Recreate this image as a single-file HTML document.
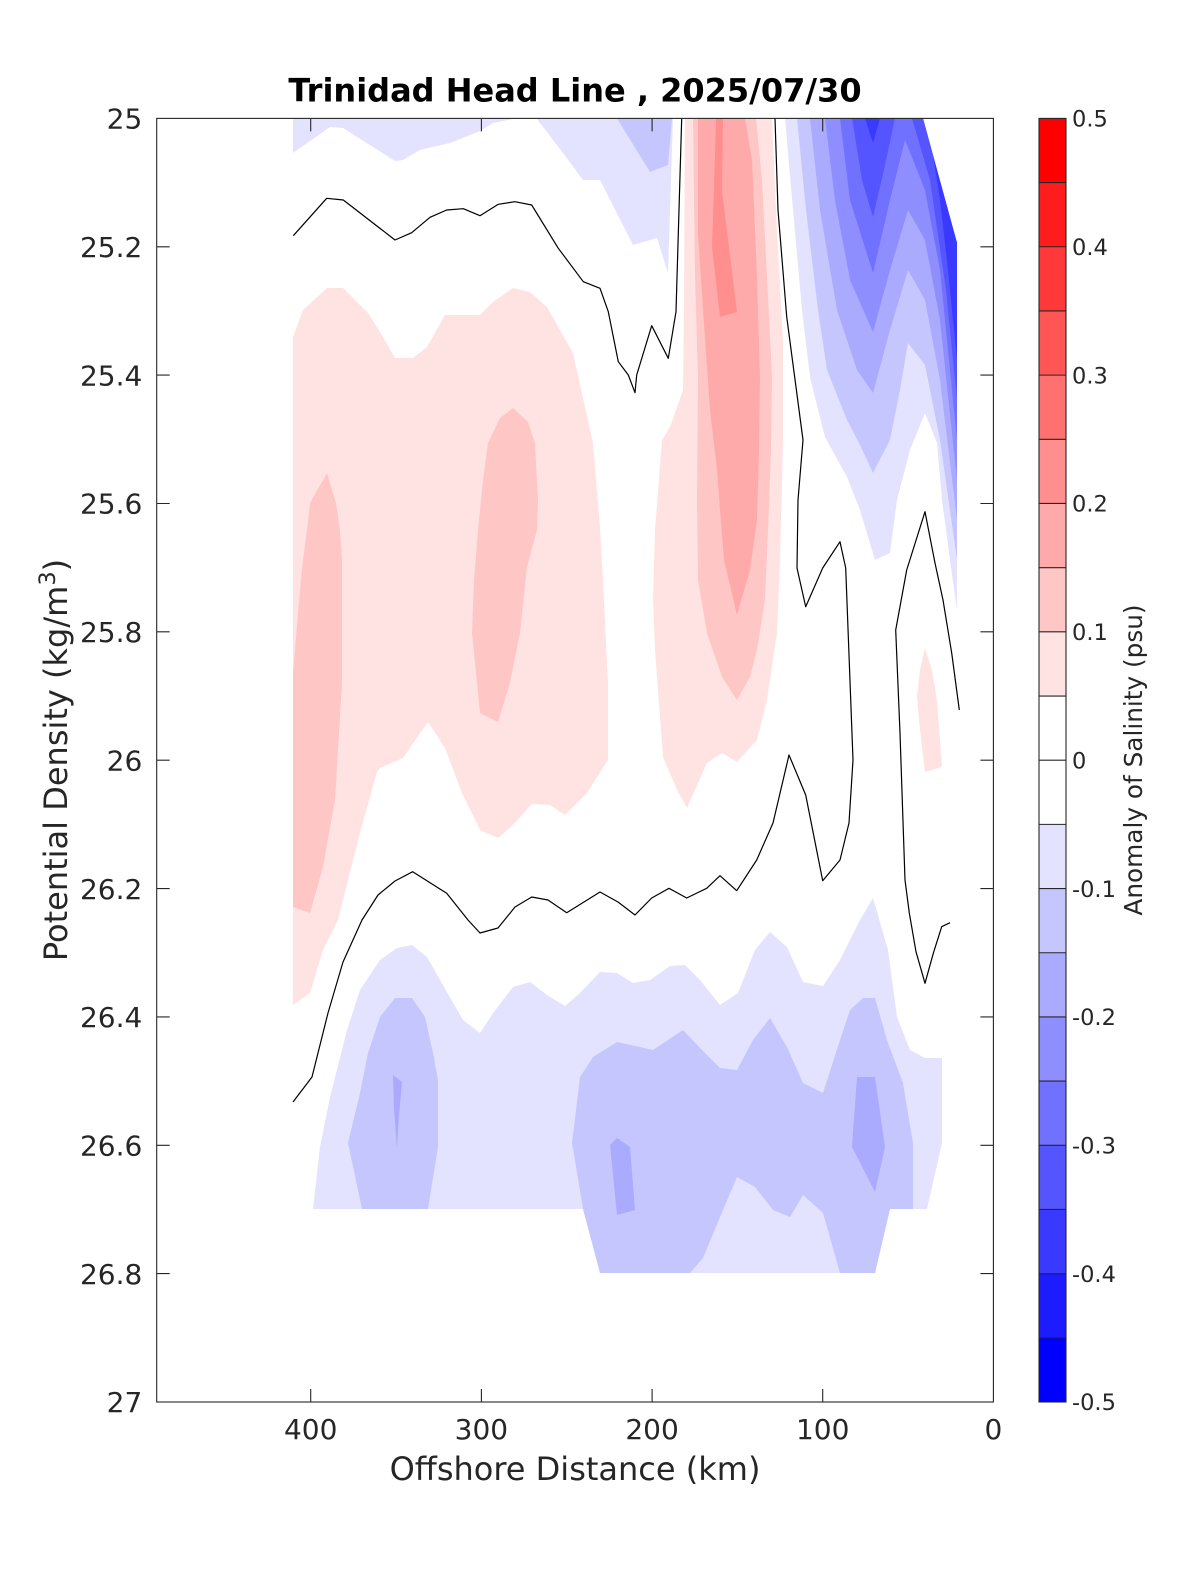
<!DOCTYPE html>
<html><head><meta charset="utf-8"><style>html,body{margin:0;padding:0;background:#fff}svg{display:block}</style></head>
<body>
<svg xmlns="http://www.w3.org/2000/svg" width="1200" height="1575" viewBox="0 0 1200 1575">
<rect x="0" y="0" width="1200" height="1575" fill="#fff"/>
<g stroke="none">
<!-- negative level 1 -->
<g fill="#e3e3ff">
<polygon points="293,118.4 293,153 330,127 343,128 395,161 403,160 420,150 450,143 480,131 493,123 513,119 537,119 563,153 583,180 600,180 633,245 657,238 668,273 673,118.4"/>
<polygon points="785,118.4 793,210 802,310 810,377 825,437 847,477 860,510 875,560 890,553 897,500 910,450 925,413 937,443 942,500 950,560 957,610 957,243 923,118.4"/>
<polygon points="313,1209 320,1147 330,1097 347,1030 360,990 380,960 397,948 412,945 427,957 440,980 463,1020 480,1033 493,1013 513,987 530,982 547,995 565,1006 580,993 600,972 617,973 633,983 650,980 670,966 685,965 700,980 720,1005 738,993 755,950 770,932 787,947 803,982 823,986 840,960 860,920 873,898 888,950 897,1017 910,1050 925,1058 942,1058 942,1143 927,1209 890,1209 875,1273 600,1273 583,1209"/>
</g>
<!-- level 2 -->
<g fill="#c6c6ff">
<polygon points="617,118.4 650,172 668,165 672,118.4"/>
<polygon points="797,118.4 806,210 818,310 827,370 847,420 860,445 873,473 890,440 900,390 908,343 925,365 940,440 957,560 957,243 923,118.4"/>
<polygon points="380,1017 395,998 412,998 425,1017 433,1053 438,1080 438,1147 428,1209 362,1209 348,1143 360,1093 368,1053"/>
<polygon points="583,1209 572,1143 580,1077 593,1057 617,1042 640,1047 653,1050 683,1030 702,1050 720,1068 737,1070 753,1040 770,1018 787,1047 803,1083 823,1093 840,1040 850,1010 863,998 875,998 887,1040 903,1083 913,1143 913,1209 890,1209 875,1273 840,1273 823,1213 803,1195 790,1217 773,1210 755,1187 737,1177 720,1217 703,1258 690,1273 600,1273"/>
</g>
<!-- level 3 -->
<g fill="#aaaaff">
<polygon points="810,118.4 820,210 837,310 857,370 873,393 890,330 908,270 925,300 940,380 957,520 957,243 923,118.4"/>
<polygon points="393,1075 402,1082 399,1115 397,1148 394,1110"/>
<polygon points="610,1145 617,1138 630,1147 635,1210 617,1215"/>
<polygon points="857,1077 875,1077 885,1147 875,1192 852,1147"/>
</g>
<!-- level 4 -->
<polygon fill="#8e8eff" points="825,118.4 835,200 850,280 873,332 890,270 908,210 925,240 940,320 957,480 957,243 923,118.4"/>
<!-- level 5 -->
<polygon fill="#7171ff" points="840,118.4 850,200 873,273 890,200 905,140 925,190 940,270 957,440 957,243 923,118.4"/>
<!-- level 6 -->
<g fill="#5555ff">
<polygon points="852,118.4 862,180 873,217 885,165 895,118.4"/>
<polygon points="912,118.4 923,118.4 957,243 957,400 946,290 930,180"/>
</g>
<!-- level 7 -->
<g fill="#3939ff">
<polygon points="865,118.4 873,143 880,118.4"/>
<polygon points="933,156 957,243 957,360 948,270 940,200"/>
</g>
<!-- positive level 1 -->
<g fill="#ffe3e3">
<polygon points="293,337 303,310 327,288 343,288 368,313 380,332 395,358 413,358 427,347 445,315 480,315 493,302 513,288 530,292 547,307 573,353 593,443 600,527 604,600 608,683 608,760 587,793 565,815 550,805 532,804 513,825 498,838 480,830 462,793 445,748 428,722 403,758 380,768 377,772 360,833 338,920 323,950 310,993 293,1005"/>
<polygon points="685,118.4 684,300 683,390 670,427 662,440 655,530 653,600 655,650 663,757 677,790 687,808 707,763 722,753 737,762 757,740 767,700 777,633 780,560 783,443 783,343 777,230 772,118.4"/>
<polygon points="925,648 932,670 937,700 942,767 925,772 920,730 917,697 920,670"/>
</g>
<!-- positive level 2 -->
<g fill="#ffc6c6">
<polygon points="327,473 336,503 340,530 342,560 342,683 335,800 323,867 310,913 293,907 293,673 300,590 303,560 307,530 310,503"/>
<polygon points="513,408 528,422 535,443 538,500 537,530 527,567 520,633 510,683 498,722 480,713 472,633 474,580 478,530 483,480 488,443 500,418"/>
<polygon points="693,118.4 756,118.4 762,180 767,277 772,377 771,450 768,530 765,600 757,650 750,677 737,700 722,677 707,633 698,580 697,500 698,377 695,277"/>
</g>
<!-- positive level 3 -->
<polygon fill="#ffaaaa" points="698,118.4 745,118.4 752,160 757,277 760,377 759,450 757,520 750,570 737,615 724,560 720,510 717,470 710,410 703,310 698,233"/>
<!-- positive level 4 -->
<polygon fill="#ff8e8e" points="716,118.4 723,118.4 722,190 737,312 720,317 712,247 714,190"/>
</g>

<!-- contour lines -->
<g fill="none" stroke="#000" stroke-width="1.2" stroke-linejoin="round">
<polyline points="293.3,235.7 326.7,198.3 343.3,200 395,240 411.7,232.7 430,217.3 446.7,210 463.3,208.7 480,215.7 498.3,204.3 515,201.7 531.7,205 558.3,248.3 583.3,281.7 600,288.3 608.3,311.7 618.3,361.7 628.3,375 635,392.7 636.7,375 651.7,325.7 668.3,358.3 676,311.7 681.7,118.4"/>
<polyline points="293,1102 312,1077 328,1013 343,962 362,920 378,895 395,881 412.7,871.7 446.7,893.3 468,920 480,933 498,928 515,907 531.7,897 548,900 566.7,912.7 600,892 618,902 635,915 651.7,898 669,888.3 686.7,898 706.7,888.3 720,875.7 736.7,890.7 756.7,860 773,823 789,755 805.7,795 822.7,880.7 840,860 849,823 853,760 845.7,568 840,541.7 822.7,568 805.7,606.7 797,568 798,500 803,440 786.7,316.7 778,210 775,118.4"/>
<polyline points="959.3,710 951.7,653 943,600 935,563 925,511.7 906.7,570 895.7,630 900,733 905,880 909.3,913 916,951.7 925,983.3 933.3,953.3 941.7,926.7 950,922.7"/>
</g>

<!-- axes box and ticks -->
<g stroke="#262626" stroke-width="1.1" fill="none">
<rect x="156.7" y="118.4" width="836.7" height="1283.6"/>
<path d="M310.7,1402v-13M481.4,1402v-13M652.1,1402v-13M822.7,1402v-13M310.7,118.4v13M481.4,118.4v13M652.1,118.4v13M822.7,118.4v13"/>
<path d="M156.7,246.8h13M156.7,375.1h13M156.7,503.5h13M156.7,631.8h13M156.7,760.2h13M156.7,888.6h13M156.7,1016.9h13M156.7,1145.3h13M156.7,1273.6h13
M993.4,246.8h-13M993.4,375.1h-13M993.4,503.5h-13M993.4,631.8h-13M993.4,760.2h-13M993.4,888.6h-13M993.4,1016.9h-13M993.4,1145.3h-13M993.4,1273.6h-13"/>
</g>

<!-- tick labels -->
<g font-family="'DejaVu Sans','Liberation Sans',sans-serif" font-size="28" fill="#262626">
<g text-anchor="end">
<text x="142.3" y="128.6">25</text>
<text x="142.3" y="257">25.2</text>
<text x="142.3" y="385.3">25.4</text>
<text x="142.3" y="513.7">25.6</text>
<text x="142.3" y="642">25.8</text>
<text x="142.3" y="770.4">26</text>
<text x="142.3" y="898.8">26.2</text>
<text x="142.3" y="1027.1">26.4</text>
<text x="142.3" y="1155.5">26.6</text>
<text x="142.3" y="1283.8">26.8</text>
<text x="142.3" y="1412.2">27</text>
</g>
<g text-anchor="middle">
<text x="310.7" y="1439">400</text>
<text x="481.4" y="1439">300</text>
<text x="652.1" y="1439">200</text>
<text x="822.7" y="1439">100</text>
<text x="993.4" y="1439">0</text>
</g>
</g>

<!-- axis labels -->
<text x="575" y="1480" text-anchor="middle" font-family="'DejaVu Sans','Liberation Sans',sans-serif" font-size="32" fill="#262626">Offshore Distance (km)</text>
<text transform="translate(67,760) rotate(-90)" text-anchor="middle" font-family="'DejaVu Sans','Liberation Sans',sans-serif" font-size="32" fill="#262626">Potential Density (kg/m<tspan font-size="22.5" dy="-12">3</tspan><tspan dy="12">)</tspan></text>

<!-- title -->
<text x="575" y="101.5" text-anchor="middle" font-family="'DejaVu Sans','Liberation Sans',sans-serif" font-size="32" font-weight="bold" fill="#000">Trinidad Head Line , 2025/07/30</text>

<!-- colorbar -->
<g stroke="none">
<rect x="1039" y="118.4" width="27" height="64.18" fill="#ff0000"/>
<rect x="1039" y="182.58" width="27" height="64.18" fill="#ff1c1c"/>
<rect x="1039" y="246.76" width="27" height="64.18" fill="#ff3939"/>
<rect x="1039" y="310.94" width="27" height="64.18" fill="#ff5555"/>
<rect x="1039" y="375.12" width="27" height="64.18" fill="#ff7171"/>
<rect x="1039" y="439.3" width="27" height="64.18" fill="#ff8e8e"/>
<rect x="1039" y="503.48" width="27" height="64.18" fill="#ffaaaa"/>
<rect x="1039" y="567.66" width="27" height="64.18" fill="#ffc6c6"/>
<rect x="1039" y="631.84" width="27" height="64.18" fill="#ffe3e3"/>
<rect x="1039" y="696.02" width="27" height="64.18" fill="#ffffff"/>
<rect x="1039" y="760.2" width="27" height="64.18" fill="#ffffff"/>
<rect x="1039" y="824.38" width="27" height="64.18" fill="#e3e3ff"/>
<rect x="1039" y="888.56" width="27" height="64.18" fill="#c6c6ff"/>
<rect x="1039" y="952.74" width="27" height="64.18" fill="#aaaaff"/>
<rect x="1039" y="1016.92" width="27" height="64.18" fill="#8e8eff"/>
<rect x="1039" y="1081.1" width="27" height="64.18" fill="#7171ff"/>
<rect x="1039" y="1145.28" width="27" height="64.18" fill="#5555ff"/>
<rect x="1039" y="1209.46" width="27" height="64.18" fill="#3939ff"/>
<rect x="1039" y="1273.64" width="27" height="64.18" fill="#1c1cff"/>
<rect x="1039" y="1337.82" width="27" height="64.18" fill="#0000ff"/>
</g>
<g stroke="#262626" stroke-width="1.1" fill="none">
<path d="M1039,182.58h27M1039,246.76h27M1039,310.94h27M1039,375.12h27M1039,439.3h27M1039,503.48h27M1039,567.66h27M1039,631.84h27M1039,696.02h27M1039,760.2h27M1039,824.38h27M1039,888.56h27M1039,952.74h27M1039,1016.92h27M1039,1081.1h27M1039,1145.28h27M1039,1209.46h27M1039,1273.64h27M1039,1337.82h27"/>
<rect x="1039" y="118.4" width="27" height="1283.6"/>
</g>
<g font-family="'DejaVu Sans','Liberation Sans',sans-serif" font-size="22.5" fill="#262626">
<text x="1072" y="126.6">0.5</text>
<text x="1072" y="255">0.4</text>
<text x="1072" y="383.3">0.3</text>
<text x="1072" y="511.7">0.2</text>
<text x="1072" y="640">0.1</text>
<text x="1072" y="768.4">0</text>
<text x="1072" y="896.8">-0.1</text>
<text x="1072" y="1025.1">-0.2</text>
<text x="1072" y="1153.5">-0.3</text>
<text x="1072" y="1281.8">-0.4</text>
<text x="1072" y="1410.2">-0.5</text>
</g>
<text transform="translate(1142,760) rotate(-90)" text-anchor="middle" font-family="'DejaVu Sans','Liberation Sans',sans-serif" font-size="24.75" fill="#262626">Anomaly of Salinity (psu)</text>
</svg>
</body></html>
